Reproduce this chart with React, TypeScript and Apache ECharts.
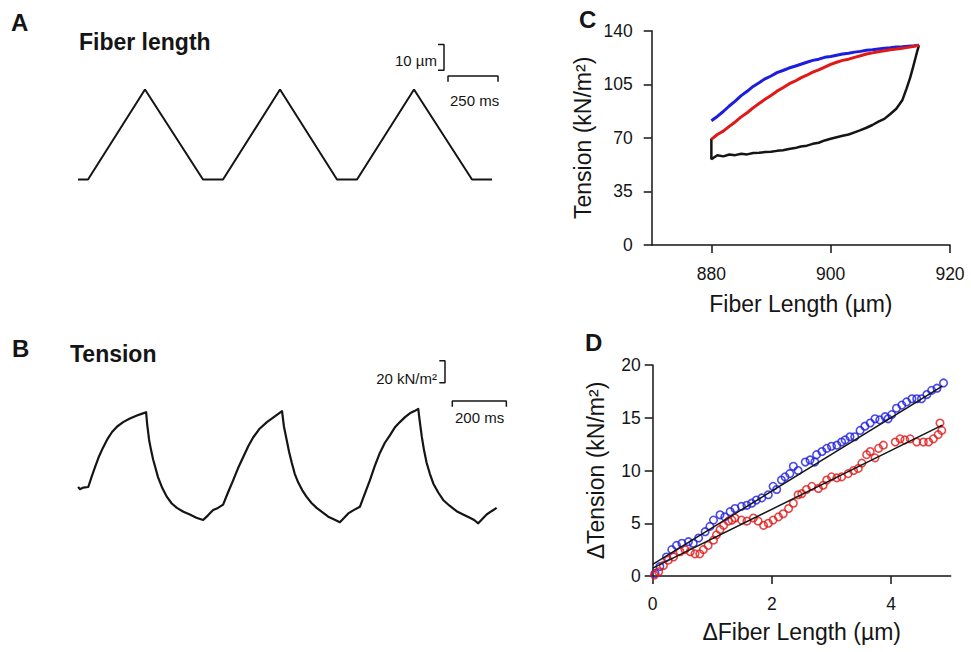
import React, { useEffect, useRef } from "react";
import * as echarts from "echarts";

// ---------- Panel A: fiber length trace (time ms, length µm) ----------
const lengthTrace: [number, number][] = [
  [0, 880], [50, 880], [335, 915], [625, 880], [725, 880], [1010, 915],
  [1295, 880], [1395, 880], [1680, 915], [1970, 880], [2070, 880],
];
const lengthBarV: [number, number][] = [[1800, 932.5], [1830, 932.5], [1830, 922.5], [1800, 922.5]];
const lengthBarH: [number, number][] = [[1850, 918], [1850, 920.3], [2100, 920.3], [2100, 918]];

// ---------- Panel B: tension trace (time ms, tension kN/m²) ----------
const tensionTrace: [number, number][] = [
  [0, 58], [4, 57], [7, 56], [20, 57.5], [38, 58], [50, 67], [63, 76], [78, 86], [93, 94],
  [110, 102], [126, 108], [145, 113], [167, 117], [190, 120], [218, 123], [235, 124.5], [252, 126],
  [256, 115], [263, 101], [270, 92], [278, 83], [287, 75], [296, 67], [312, 57], [329, 49],
  [347, 43], [366, 39], [390, 35.5], [414, 33], [438, 30], [463, 28], [480, 32], [500, 37],
  [518, 39], [537, 42], [555, 53], [574, 64], [592, 75], [611, 85], [630, 95], [648, 103],
  [672, 111], [699, 117], [727, 122], [755, 127], [762, 113], [772, 101], [781, 90], [791, 80],
  [802, 70], [815, 62], [830, 55], [846, 49], [864, 43.5], [883, 39], [905, 35], [926, 31],
  [948, 28.5], [969, 26], [985, 30], [1000, 34], [1020, 37], [1043, 40], [1060, 51], [1080, 64],
  [1098, 77], [1117, 89], [1135, 98], [1154, 105], [1172, 112], [1191, 117], [1210, 121.5],
  [1228, 125], [1245, 127], [1259, 129], [1265, 117], [1272, 104], [1280, 92], [1290, 80],
  [1302, 70], [1315, 61], [1333, 53], [1352, 46], [1375, 41], [1401, 36], [1425, 33], [1450, 30],
  [1466, 28], [1481, 25], [1496, 29], [1512, 33], [1530, 36], [1549, 39],
];
const tensionBarV: [number, number][] = [[1337, 172.8], [1358, 172.8], [1358, 152.8], [1337, 152.8]];
const tensionBarH: [number, number][] = [[1385, 131], [1385, 136.2], [1585, 136.2], [1585, 131]];

// ---------- Panel C: tension vs fiber length loops ----------
const loopBlue: [number, number][] = [
  [880, 81.2], [881, 84], [882, 87.2], [883, 90.8], [884, 94], [885, 97.6], [886, 100.4],
  [887, 103.6], [888, 106], [889, 108.6], [890, 110.4], [891, 112.6], [892, 114], [893, 115.6],
  [894, 116.8], [895, 118.1], [896, 119.4], [897, 120.6], [898, 121.4], [899, 122.6], [900, 123.2],
  [901, 124], [902, 124.8], [903, 125.3], [904, 126], [905, 126.5], [906, 127.2], [907, 127.5],
  [908, 128], [909, 128.5], [910, 128.8], [911, 129.3], [912, 129.5], [913, 129.9], [914, 130.2],
  [914.8, 130.5],
];
const loopRed: [number, number][] = [
  [880, 69], [881, 72.2], [882, 74.4], [883, 77.5], [884, 80.4], [885, 83.7], [886, 86.4],
  [887, 89.6], [888, 92.4], [889, 95.2], [890, 97.7], [891, 100.5], [892, 102.7], [893, 105.2],
  [894, 107], [895, 109.2], [896, 110.9], [897, 112.9], [898, 114.4], [899, 116.2], [900, 118],
  [901, 119.4], [902, 120.6], [903, 121.4], [904, 122.6], [905, 123.6], [906, 124.8], [907, 125.5],
  [908, 126.3], [909, 126.9], [910, 127.5], [911, 128], [912, 128.6], [913, 129.1], [914, 129.8],
  [914.8, 130.5],
];
const loopBlack: [number, number][] = [
  [880, 69.5], [880, 56], [881, 58.6], [882, 57.9], [883, 59.1], [884, 58.7], [885, 59.6],
  [886, 59.2], [887, 60.1], [888, 60.2], [889, 60.7], [890, 60.9], [891, 61.5], [892, 61.9],
  [893, 62.7], [894, 63.3], [895, 64.4], [896, 64.9], [897, 66.1], [898, 66.8], [899, 68.3],
  [900, 69.4], [901, 70.4], [902, 71.4], [903, 72.2], [904, 73.6], [905, 75], [906, 76.6],
  [907, 78.4], [908, 80.6], [909, 82.4], [910, 85.6], [911, 89], [912, 94.5], [912.7, 102],
  [913.3, 109], [913.8, 116], [914.2, 122], [914.5, 126.5], [914.8, 130.5],
];

// ---------- Panel D: Δtension vs Δfiber length ----------
const deltaBlue: [number, number][] = [
  [0.04, 0.25], [0.12, 0.9], [0.23, 1.8], [0.32, 2.5], [0.4, 2.9], [0.49, 3.1], [0.6, 3.25],
  [0.68, 3.1], [0.77, 3.6], [0.88, 4.2], [0.96, 4.7], [1.02, 5.3], [1.13, 5.8], [1.21, 5.6],
  [1.3, 6.1], [1.38, 6.4], [1.49, 6.6], [1.58, 6.7], [1.66, 6.9], [1.74, 7.2], [1.83, 7.4],
  [1.94, 7.7], [2.02, 8.5], [2.08, 8.2], [2.16, 9.1], [2.22, 9.4], [2.3, 9.7], [2.36, 10.4],
  [2.44, 10.0], [2.56, 10.8], [2.64, 11.0], [2.72, 10.8], [2.75, 11.5], [2.84, 11.8], [2.92, 12.1],
  [3.0, 12.3], [3.09, 12.4], [3.17, 12.7], [3.23, 12.9], [3.31, 13.2], [3.39, 13.2], [3.48, 13.8],
  [3.56, 14.2], [3.65, 14.5], [3.73, 14.9], [3.81, 14.8], [3.9, 15.1], [3.95, 14.9], [4.01, 15.3],
  [4.09, 15.9], [4.18, 16.2], [4.26, 16.5], [4.35, 16.8], [4.43, 16.8], [4.51, 16.8], [4.6, 17.2],
  [4.68, 17.6], [4.77, 17.8], [4.88, 18.3],
];
const deltaRed: [number, number][] = [
  [0.03, 0.1], [0.1, 0.4], [0.18, 1.0], [0.26, 1.5], [0.35, 1.8], [0.46, 2.3], [0.54, 2.5],
  [0.63, 2.3], [0.71, 2.1], [0.79, 2.1], [0.85, 2.5], [0.93, 2.9], [1.02, 3.4], [1.07, 3.9],
  [1.13, 4.4], [1.19, 4.8], [1.27, 5.2], [1.33, 5.3], [1.38, 5.5], [1.49, 5.3], [1.58, 5.2],
  [1.69, 5.5], [1.77, 5.2], [1.86, 4.8], [1.94, 5.0], [2.02, 5.3], [2.11, 5.6], [2.19, 5.9],
  [2.28, 6.4], [2.36, 6.9], [2.44, 7.7], [2.5, 7.8], [2.58, 8.2], [2.67, 8.5], [2.78, 8.3],
  [2.86, 8.6], [2.92, 9.1], [3.0, 9.4], [3.09, 9.3], [3.17, 9.4], [3.28, 9.7], [3.37, 10.0],
  [3.45, 10.2], [3.51, 10.7], [3.59, 11.5], [3.65, 11.8], [3.73, 11.2], [3.79, 12.1], [3.87, 12.4],
  [4.07, 12.7], [4.15, 13.0], [4.23, 12.9], [4.32, 13.0], [4.43, 12.7], [4.54, 12.7], [4.63, 12.7],
  [4.71, 13.0], [4.79, 13.4], [4.85, 13.8], [4.82, 14.5],
];
const fitBlue: [number, number][] = [[0, 1.1], [4.86, 18.0]];
const fitRed: [number, number][] = [[0, 0.75], [4.86, 14.3]];

const xTicksC = [880, 900, 920];
const xTicksD = [0, 2, 4];

const FONT = "'Liberation Sans', Arial, Helvetica, sans-serif";
const INK = "#151515";
const BLUE = "#1d1de0";
const RED = "#e01818";

function txt(text: string, x: number, y: number, size: number, bold: boolean, align: string) {
  return {
    type: "text",
    x,
    y,
    style: {
      text,
      fontSize: size,
      fontWeight: bold ? "bold" : "normal",
      fontFamily: FONT,
      fill: INK,
      align,
      verticalAlign: "middle",
      textAlign: align,
      textVerticalAlign: "middle",
    },
  };
}

export default function App() {
  const ref = useRef<HTMLDivElement>(null);
  useEffect(() => {
    if (!ref.current) return;
    const chart = echarts.init(ref.current, null, { renderer: "svg" });

    const hiddenAxis = { show: false, splitLine: { show: false } };
    const axisCommon = {
      axisLine: { show: true, onZero: false, lineStyle: { color: INK, width: 1.5 } },
      axisTick: { show: true, inside: false, length: 8, lineStyle: { color: INK, width: 1.5 } },
      splitLine: { show: false },
      nameLocation: "middle",
      nameTextStyle: { fontFamily: FONT, fontSize: 23, color: INK },
    };
    const labelStyle = { fontFamily: FONT, fontSize: 17.5, color: INK };

    const option: any = {
      animation: false,
      backgroundColor: "#ffffff",
      textStyle: { fontFamily: FONT },
      grid: [
        { left: 78, top: 38.1, width: 430, height: 167.1, outerBoundsMode: "none", containLabel: false },
        { left: 78, top: 352.8, width: 432.4, height: 198, outerBoundsMode: "none", containLabel: false },
        { left: 651.7, top: 30.7, width: 298.3, height: 214.3, outerBoundsMode: "none", containLabel: false },
        { left: 652.7, top: 365, width: 298, height: 211, outerBoundsMode: "none", containLabel: false },
      ],
      xAxis: [
        { type: "value", gridIndex: 0, min: 0, max: 2150, ...hiddenAxis },
        { type: "value", gridIndex: 1, min: 0, max: 1600, ...hiddenAxis },
        {
          type: "value", gridIndex: 2, min: 870, max: 920, ...axisCommon,
          name: "Fiber Length (µm)", nameGap: 47,
          axisTick: { ...axisCommon.axisTick, customValues: xTicksC },
          axisLabel: { ...labelStyle, margin: 20, customValues: xTicksC },
        },
        {
          type: "value", gridIndex: 3, min: 0, max: 5, ...axisCommon,
          name: "ΔFiber Length (µm)", nameGap: 44,
          axisTick: { ...axisCommon.axisTick, customValues: xTicksD },
          axisLabel: { ...labelStyle, margin: 19, customValues: xTicksD },
        },
      ],
      yAxis: [
        { type: "value", gridIndex: 0, min: 870, max: 935, ...hiddenAxis },
        { type: "value", gridIndex: 1, min: 0, max: 180, ...hiddenAxis },
        {
          type: "value", gridIndex: 2, min: 0, max: 140, interval: 35, ...axisCommon,
          name: "Tension (kN/m²)", nameGap: 57,
          axisLabel: { ...labelStyle, margin: 19 },
        },
        {
          type: "value", gridIndex: 3, min: 0, max: 20, interval: 5, ...axisCommon,
          name: "ΔTension (kN/m²)", nameGap: 45,
          axisLabel: { ...labelStyle, margin: 12 },
        },
      ],
      series: [
        { type: "line", xAxisIndex: 0, yAxisIndex: 0, data: lengthTrace, symbol: "none", lineStyle: { color: INK, width: 2 } },
        { type: "line", xAxisIndex: 0, yAxisIndex: 0, data: lengthBarV, symbol: "none", lineStyle: { color: INK, width: 1.5 } },
        { type: "line", xAxisIndex: 0, yAxisIndex: 0, data: lengthBarH, symbol: "none", lineStyle: { color: INK, width: 1.5 } },
        { type: "line", xAxisIndex: 1, yAxisIndex: 1, data: tensionTrace, symbol: "none", lineStyle: { color: INK, width: 2.2, join: "round" } },
        { type: "line", xAxisIndex: 1, yAxisIndex: 1, data: tensionBarV, symbol: "none", lineStyle: { color: INK, width: 1.5 } },
        { type: "line", xAxisIndex: 1, yAxisIndex: 1, data: tensionBarH, symbol: "none", lineStyle: { color: INK, width: 1.5 } },
        { type: "line", xAxisIndex: 2, yAxisIndex: 2, data: loopBlack, symbol: "none", lineStyle: { color: INK, width: 2.5 } },
        { type: "line", xAxisIndex: 2, yAxisIndex: 2, data: loopBlue, symbol: "none", lineStyle: { color: BLUE, width: 3 } },
        { type: "line", xAxisIndex: 2, yAxisIndex: 2, data: loopRed, symbol: "none", lineStyle: { color: RED, width: 3 } },
        {
          type: "scatter", xAxisIndex: 3, yAxisIndex: 3, data: deltaBlue, symbol: "circle", symbolSize: 7.5,
          itemStyle: { color: "rgba(255,255,255,0)", borderColor: BLUE, borderWidth: 1.6 },
        },
        {
          type: "scatter", xAxisIndex: 3, yAxisIndex: 3, data: deltaRed, symbol: "circle", symbolSize: 7.5,
          itemStyle: { color: "rgba(255,255,255,0)", borderColor: RED, borderWidth: 1.6 },
        },
        { type: "line", xAxisIndex: 3, yAxisIndex: 3, data: fitBlue, symbol: "none", lineStyle: { color: INK, width: 1.5 } },
        { type: "line", xAxisIndex: 3, yAxisIndex: 3, data: fitRed, symbol: "none", lineStyle: { color: INK, width: 1.5 } },
      ],
      graphic: [
        txt("A", 11, 22, 24, true, "left"),
        txt("Fiber length", 79, 42, 23, true, "left"),
        txt("10 µm", 437, 60, 15, false, "right"),
        txt("250 ms", 450, 100, 15, false, "left"),
        txt("B", 12, 348, 24, true, "left"),
        txt("Tension", 70, 354, 23, true, "left"),
        txt("20 kN/m²", 437, 378, 15, false, "right"),
        txt("200 ms", 455, 417, 15, false, "left"),
        txt("C", 579, 19, 24, true, "left"),
        txt("D", 585, 342, 24, true, "left"),
      ],
    };
    chart.setOption(option);
    return () => chart.dispose();
  }, []);
  return (
    <div
      ref={ref}
      style={{ position: "fixed", left: 0, top: 0, width: 971, height: 652, background: "#fff" }}
    />
  );
}
